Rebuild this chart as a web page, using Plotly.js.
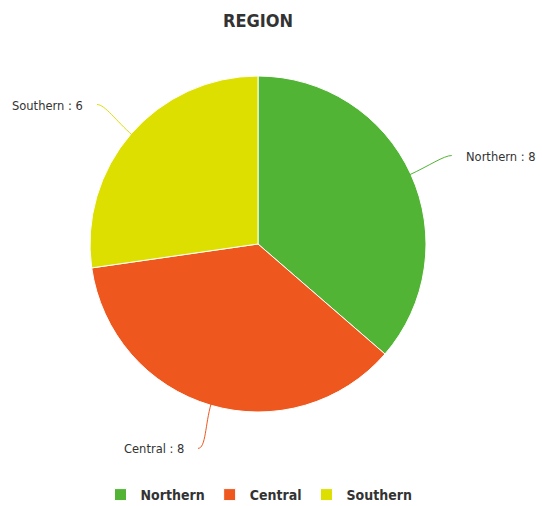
<!DOCTYPE html>
<html>
<head>
<meta charset="utf-8">
<script src="https://cdn.plot.ly/plotly-3.0.1.min.js"></script>
<style>html,body{margin:0;padding:0;background:#fff;}#chart{width:542px;height:506px;}</style>
</head>
<body>
<div id="chart"></div>
<script>
const regions = ["Northern", "Central", "Southern"];
const counts = [8, 8, 6];
const colors = ["#52b435", "#ee581f", "#dcdf00"];
const chartTitle = "REGION";

const W = 542, H = 506;
const M = {l: 0, r: 0, t: 76, b: 94};
const pw = W - M.l - M.r, ph = H - M.t - M.b;
const R = ph / 2;
const cx = 258, cy = M.t + ph / 2;
const toPx = (px) => (px - M.l) / pw;
const toPy = (py) => 1 - (py - M.t) / ph;

const total = counts.reduce((a, b) => a + b, 0);
const shapes = [], annotations = [];
let acc = 0;
counts.forEach((v, i) => {
  const mid = (acc + v / 2) / total * 2 * Math.PI;
  acc += v;
  const dx = Math.sin(mid), dy = -Math.cos(mid);
  const p0 = [cx + (R - 2) * dx, cy + (R - 2) * dy];
  const c1 = [cx + (R + 20) * dx, cy + (R + 20) * dy];
  const e = [cx + (R + 45) * dx, cy + (R + 45) * dy];
  const right = dx >= 0;
  const c2 = [e[0] + (right ? -8 : 8), e[1]];
  const path = `M ${toPx(p0[0])} ${toPy(p0[1])} C ${toPx(c1[0])} ${toPy(c1[1])} ${toPx(c2[0])} ${toPy(c2[1])} ${toPx(e[0])} ${toPy(e[1])}`;
  shapes.push({type: "path", xref: "paper", yref: "paper", path: path,
    line: {color: colors[i], width: 1}});
  annotations.push({xref: "paper", yref: "paper",
    x: toPx(e[0] + (right ? 12 : -12)), y: toPy(e[1] + 1),
    xanchor: right ? "left" : "right", yanchor: "middle",
    text: regions[i] + " : " + v, showarrow: false,
    font: {family: "DejaVu Sans, Liberation Sans, sans-serif", size: 11.5, color: "#333333"}});
});

const data = [{
  type: "pie",
  labels: regions,
  values: counts,
  sort: false,
  direction: "clockwise",
  rotation: 0,
  marker: {colors: colors, line: {color: "#ffffff", width: 1}},
  textinfo: "none",
  hoverinfo: "label+value",
  domain: {x: [toPx(cx - R), toPx(cx + R)], y: [0, 1]}
}];

const condensed = "DejaVu Sans Condensed, Liberation Sans, sans-serif";
const layout = {
  width: W, height: H,
  margin: M,
  paper_bgcolor: "#ffffff",
  plot_bgcolor: "#ffffff",
  title: {text: "<b>" + chartTitle + "</b>", xref: "container", yref: "container",
    x: 258 / W, xanchor: "center", y: 1 - 21 / H, yanchor: "middle",
    font: {family: condensed, size: 18, color: "#333333"}},
  showlegend: true,
  legend: {orientation: "h", xref: "container", yref: "container",
    x: 259 / W, xanchor: "center", y: 1 - 495 / H, yanchor: "middle",
    font: {family: condensed, size: 14, color: "#333333", weight: "bold"},
    itemwidth: 30},
  shapes: shapes,
  annotations: annotations
};

Plotly.newPlot("chart", data, layout, {displayModeBar: false, staticPlot: true});
</script>
</body>
</html>
